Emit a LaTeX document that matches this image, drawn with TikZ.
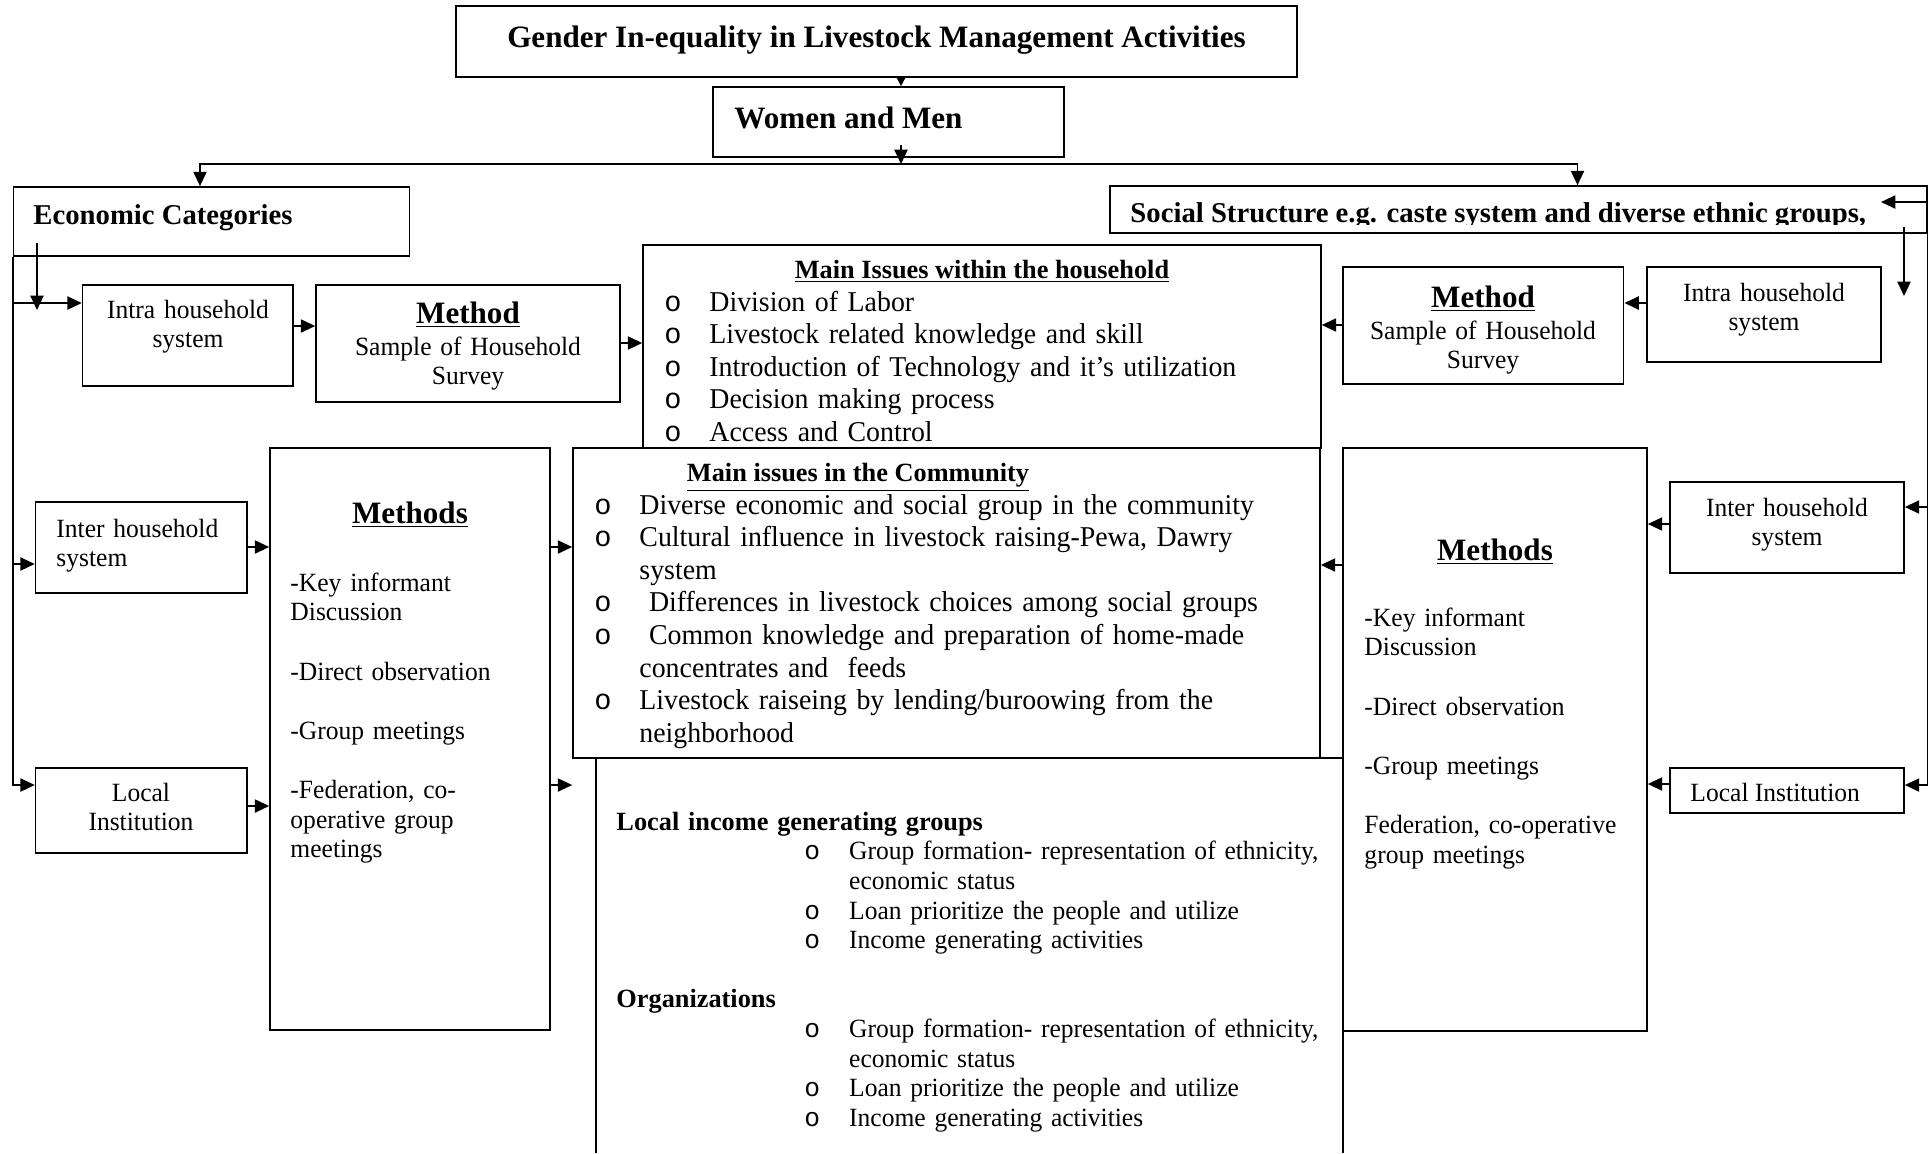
\documentclass[tikz,border=0pt]{standalone}
\usepackage{fontspec}
\setmainfont{Liberation Serif}[UprightFeatures={FakeStretch=0.97}]
\setmonofont{Liberation Mono}
\usepackage{tikz}
\usetikzlibrary{arrows.meta,fit}
\newcommand{\itm}{\makebox[18.8pt][l]{\texttt{o}}}

\begin{document}
\begin{tikzpicture}[x=0.41805pt,y=-0.41805pt,
  >={Triangle[length=6pt,width=5.5pt]},
  box/.style={draw,line width=0.7pt,inner sep=0pt},
  link/.style={line width=0.7pt},
  txt/.style={inner sep=0pt,font=\fontsize{11}{12.4}\selectfont},
  txtb/.style={inner sep=0pt,font=\fontsize{11}{12.4}\selectfont\bfseries},
  big/.style={inner sep=0pt,font=\fontsize{12}{13.65}\selectfont},
  hd/.style={inner sep=0pt,font=\fontsize{12}{13.65}\selectfont\bfseries},
  hdl/.style={inner sep=0pt,font=\fontsize{13}{15}\selectfont\bfseries}]
\useasboundingbox (0,0) rectangle (1928,1153);

\node[box, fit={(456,6) (1297,77)}] (title) {};
\node[box, fit={(713,87) (1064,157)}] (women) {};
\node[box, fit={(13.5,187) (409.5,256)}] (econ) {};
\node[box, fit={(1110,186) (1927,233)}] (social) {};
\node[box, fit={(82.6,285) (293,386)}] (intraL) {};
\node[box, fit={(316,285) (620,402)}] (methodL) {};
\node[box, fit={(643,245) (1321,448)}] (issues) {};
\node[box, fit={(1343,267) (1623.6,384)}] (methodR) {};
\node[box, fit={(1647,267) (1880.7,362)}] (intraR) {};
\node[box, fit={(35.6,502) (246.8,593)}] (interL) {};
\node[box, fit={(35.6,768) (246.8,853)}] (localL) {};
\node[box, fit={(270,448) (550,1030)}] (methodsL) {};
\node[box, fit={(573,448) (1320,758)}] (community) {};
\node[box, fit={(1343,448) (1647,1031)}] (methodsR) {};
\node[box, fit={(1670,482) (1904,573)}] (interR) {};
\node[box, fit={(1670,768) (1904,813)}] (localR) {};
\draw[link] (596,1153) |- (1343,758) -- (1343,1153);

\node[hdl, anchor=base] (titletxt) at (876.5,47) {Gender In-equality in Livestock Management Activities};
\node[hdl, anchor=base west] (womentxt) at (734,128) {Women and Men};
\node[hd, anchor=base west] (econtxt) at (33,224) {Economic Categories};
\begin{scope}
  \clip (1110,186) rectangle (1927,224);
  \node[hd, anchor=base west] (socialtxt) at (1130,222) {Social Structure e.g. caste system and diverse ethnic groups,};
\end{scope}
\node[txt, anchor=base, text width=85pt, align=center] (intraLtxt) at (188,318) {Intra household\\system};
\node[txt, anchor=base, text width=120pt, align=center] (methodLtxt) at (468,323) {{\fontsize{13}{15}\selectfont\bfseries\underline{Method}}\\[1pt]Sample of Household\\Survey};
\node[txt, anchor=base, text width=120pt, align=center] (methodRtxt) at (1483,307) {{\fontsize{13}{15}\selectfont\bfseries\underline{Method}}\\[1pt]Sample of Household\\Survey};
\node[txt, anchor=base, text width=90pt, align=center] (intraRtxt) at (1764,301) {Intra household\\system};
\node[txt, anchor=base, text width=90pt, align=center] (interRtxt) at (1787,516) {Inter household\\system};
\node[txt, anchor=base west, text width=80pt, align=left] (interLtxt) at (56,537) {Inter household\\system};
\node[txt, anchor=base, text width=80pt, align=center] (localLtxt) at (141,801) {Local\\Institution};
\node[txt, anchor=base west] (localRtxt) at (1690,801) {Local Institution};

\node[hdl, anchor=base] (methodsLhd) at (410,523) {\underline{Methods}};
\node[txt, anchor=base west, text width=110pt, align=left] (methodsLlist) at (290,591) {-Key informant\\Discussion\\[12.4pt]-Direct observation\\[12.4pt]-Group meetings\\[12.4pt]-Federation, co-\\operative group\\meetings};
\node[hdl, anchor=base] (methodsRhd) at (1495,560) {\underline{Methods}};
\node[txt, anchor=base west, text width=115pt, align=left] (methodsRlist) at (1364,626) {-Key informant\\Discussion\\[12.4pt]-Direct observation\\[12.4pt]-Group meetings\\[12.4pt]Federation, co-operative\\group meetings};

\node[txtb, anchor=base] (issueshd) at (982,278) {\underline{Main Issues within the household}};
\node[big, anchor=base west, text width=270pt, align=left] (issueslist) at (664,311) {\itm Division of Labor\\
  \itm Livestock related knowledge and skill\\
  \itm Introduction of Technology and it's utilization\\
  \itm Decision making process\\
  \itm Access and Control};

\node[txtb, anchor=base west] (communityhd) at (686.5,481) {\underline{Main issues in the Community}};
\node[big, anchor=base west, text width=290pt, align=left] (communitylist) at (594,514) {\itm Diverse economic and social group in the community\\
  \itm Cultural influence in livestock raising-Pewa, Dawry\\
  \hspace*{18.8pt}system\\
  \itm\ Differences in livestock choices among social groups\\
  \itm\ Common knowledge and preparation of home-made\\
  \hspace*{18.8pt}concentrates and~ feeds\\
  \itm Livestock raiseing by lending/buroowing from the\\
  \hspace*{18.8pt}neighborhood};

\node[txt, anchor=base west, text width=330pt, align=left] (groupslist) at (616,830) {{\bfseries Local income generating groups}\\
  \hspace*{78.5pt}\itm Group formation- representation of ethnicity,\\
  \hspace*{97.3pt}economic status\\
  \hspace*{78.5pt}\itm Loan prioritize the people and utilize\\
  \hspace*{78.5pt}\itm Income generating activities\\[12.4pt]
  {\bfseries Organizations}\\
  \hspace*{78.5pt}\itm Group formation- representation of ethnicity,\\
  \hspace*{97.3pt}economic status\\
  \hspace*{78.5pt}\itm Loan prioritize the people and utilize\\
  \hspace*{78.5pt}\itm Income generating activities};

\coordinate (split) at (901,164);
\coordinate (wstub) at (901,145);
\draw[link,->,>={Triangle[length=4pt,width=4pt]}] (title.south -| split) -- (women.north -| split);
\draw[link,->] (wstub) -- (split);
\draw[link,<->] (econ.north -| 200,0) |- (split) -| (social.north -| 1577.5,0);

\draw[link,->] (37,243) -- (37,310);
\draw[link,->] (econ.south west) |- (localL.west |- 0,785);
\draw[link,->] (econ.west |- 0,303) -- (intraL.west |- 0,303);
\draw[link,->] (econ.west |- 0,564) -- (interL.west |- 0,564);
\foreach \a/\b/\y in {intraL/methodL/326, methodL/issues/343, interL/methodsL/547, localL/methodsL/806, methodsL/community/547, methodsL/community/785}
  \draw[link,->] (\a.east |- 0,\y) -- (\b.west |- 0,\y);

\coordinate (socin) at (1881,202);
\draw[link,->] (social.east |- socin) -- (socin);
\draw[link,->] (1904,227) -- (1904,296);
\draw[link,->] (social.south east) |- (localR.east |- 0,785);
\draw[link,->] (social.east |- 0,507) -- (interR.east |- 0,507);
\foreach \a/\b/\y in {intraR/methodR/303, methodR/issues/325, interR/methodsR/524, localR/methodsR/784, methodsR/community/565}
  \draw[link,->] (\a.west |- 0,\y) -- (\b.east |- 0,\y);
\end{tikzpicture}
\end{document}
